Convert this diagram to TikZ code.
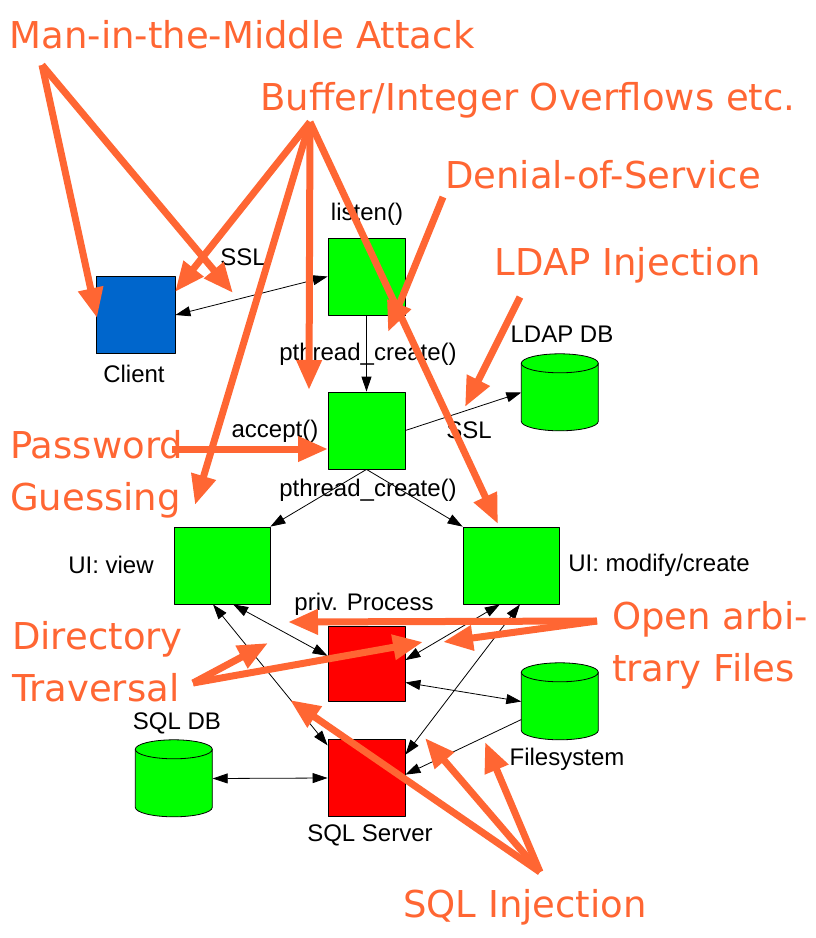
\documentclass[tikz,border=0pt]{standalone}
\usepackage{fontspec}
\setmainfont{Liberation Sans}
\newfontfamily\handfont{DejaVu Sans}
\usetikzlibrary{arrows.meta}
\definecolor{attackorange}{RGB}{255,102,51}
\definecolor{boxgreen}{RGB}{0,255,0}
\definecolor{boxblue}{RGB}{0,102,204}
\definecolor{boxred}{RGB}{255,0,0}
\begin{document}
\begin{tikzpicture}[x=1pt, y=-1pt, line join=round,
    box/.style={draw, line width=0.8pt, inner sep=0pt, minimum width=77pt, minimum height=77pt},
    db/.style={inner sep=0pt, minimum width=77pt, minimum height=77pt},
    dbwall/.style={draw, line width=0.8pt, fill=boxgreen},
    lbl/.style={font=\fontsize{24}{28}\selectfont, inner sep=0pt},
    attack/.style={font=\handfont\fontsize{37}{52}\selectfont, text=attackorange, inner sep=0pt},
    link/.style={line width=0.8pt, {Triangle[length=15pt,width=10pt]}-{Triangle[length=15pt,width=10pt]}},
    call/.style={line width=0.8pt, -{Triangle[length=15pt,width=10pt]}},
    hit/.style={attackorange, line width=7pt, -{Triangle[length=30pt,width=24pt]}}]
  \useasboundingbox (0,0) rectangle (816,938);

  % components
  \node[box, fill=boxblue, minimum width=79pt] (client) at (135.5,315) {};
  \node[box, fill=boxgreen] (listen) at (366.5,276.5) {};
  \node[box, fill=boxgreen] (accept) at (366.5,430.5) {};
  \node[box, fill=boxgreen, minimum width=96pt] (uiview) at (222,565.5) {};
  \node[box, fill=boxgreen, minimum width=96pt] (uimod) at (511,565.5) {};
  \node[box, fill=boxred, minimum height=75pt] (priv) at (366.5,663.5) {};
  \node[box, fill=boxred] (sqlsrv) at (366.5,778) {};
  \node[db] (ldapdb) at (560,392.5) {};
  \node[db] (sqldb) at (174,778.5) {};
  \node[db] (fs) at (560,701.5) {};

  % databases as cylinders
  \foreach \c in {ldapdb,sqldb,fs}{
    \path[dbwall] (\c.north west) ++(0,9.5) -- ++(0,58)
      arc[start angle=180, end angle=360, x radius=38.5pt, y radius=9.5pt] -- ++(0,-58)
      arc[start angle=0, end angle=180, x radius=38.5pt, y radius=9.5pt] -- cycle;
    \draw[line width=0.8pt] (\c.north west) ++(0,9.5)
      arc[start angle=180, end angle=360, x radius=38.5pt, y radius=9.5pt];
  }

  % labels
  \node[lbl] (listenlbl) at (367,214) {listen()};
  \node[lbl] (clientlbl) at (134,374) {Client};
  \node[lbl] (ssla) at (243,257) {SSL};
  \node[lbl] (forka) at (368,354) {pthread\_create()};
  \node[lbl] (acceptlbl) at (275,431) {accept()};
  \node[lbl] (ldaplbl) at (562,334) {LDAP DB};
  \node[lbl] (sslb) at (469,430) {SSL};
  \node[lbl] (forkb) at (368,490) {pthread\_create()};
  \node[lbl] (viewlbl) at (111,565) {UI: view};
  \node[lbl] (modlbl) at (659,565) {UI: modify/create};
  \node[lbl] (privlbl) at (364,604) {priv. Process};
  \node[lbl] (sqldblbl) at (177,723) {SQL DB};
  \node[lbl] (fslbl) at (567,759) {Filesystem};
  \node[lbl] (sqlsrvlbl) at (370,835) {SQL Server};

  % connections
  \draw[link] (listen.west) -- (client.east);
  \draw[call] (listen.south) -- (accept.north);
  \draw[call] (accept.east) -- (ldapdb.west);
  \draw[call] (accept.south) -- (uiview.north east);
  \draw[call] (accept.south) -- (uimod.north west);
  \draw[link] (uiview.-74) -- (priv.169);
  \draw[link] (uiview.257) -- (sqlsrv.140);
  \draw[link] (uimod.254) -- (priv.5);
  \draw[link] (uimod.283) -- (sqlsrv.31);
  \draw[link] (priv.-26) -- (fs.west);
  \draw[call] (fs.205) -- (sqlsrv.5);
  \draw[link] (sqldb.east) -- (sqlsrv.west);

  % attacks
  \node[attack] (mitm) at (242,35) {Man-in-the-Middle Attack};
  \node[attack] (overflow) at (528,100) {Buffer/Integer Overflows etc.};
  \node[attack] (dos) at (603,175) {Denial-of-Service};
  \node[attack] (ldapinj) at (628,265) {LDAP Injection};
  \node[attack, align=left, anchor=west] (pwguess) at (10,474) {Password\\Guessing};
  \node[attack, align=left, anchor=west] (dirtrav) at (12,662) {Directory\\Traversal};
  \node[attack, align=left, anchor=west] (openfiles) at (612,645) {Open arbi-\\trary Files};
  \node[attack] (sqlinj) at (525,907) {SQL Injection};

  \coordinate (mitmfoot) at (42,65);
  \coordinate (overflowfoot) at (310,122);
  \coordinate (dosfoot) at (443,197);
  \coordinate (ldapfoot) at (520,297);
  \coordinate (pwfoot) at (172,449);
  \coordinate (pwtip) at (328,449);
  \coordinate (dirfoot) at (193,683);
  \coordinate (openfoot) at (597,621);
  \coordinate (sqlfoot) at (540,872);

  \draw[hit] (mitmfoot) -- (97,318);
  \draw[hit] (mitmfoot) -- (233,293);
  \draw[hit] (overflowfoot) -- (175,292);
  \draw[hit] (overflowfoot) -- (195,505);
  \draw[hit] (overflowfoot) -- (309,390);
  \draw[hit] (overflowfoot) -- (498,524);
  \draw[hit] (dosfoot) -- (388,332);
  \draw[hit] (ldapfoot) -- (465,407);
  \draw[hit] (pwfoot) -- (pwtip);
  \draw[hit] (dirfoot) -- (268,643);
  \draw[hit] (dirfoot) -- (423,642);
  \draw[hit] (openfoot) -- (288,622);
  \draw[hit] (openfoot) -- (443,642);
  \draw[hit] (sqlfoot) -- (290,700);
  \draw[hit] (sqlfoot) -- (425,738);
  \draw[hit] (sqlfoot) -- (485,742);
\end{tikzpicture}
\end{document}
